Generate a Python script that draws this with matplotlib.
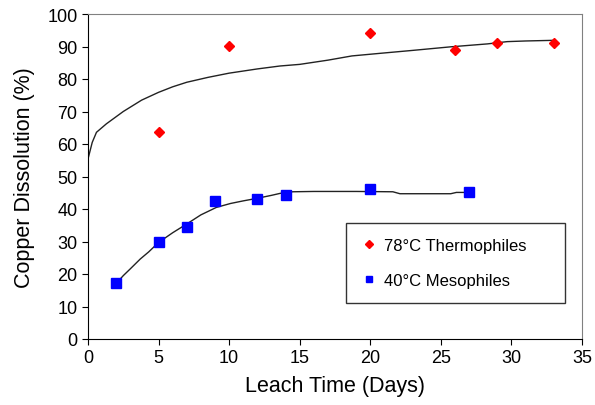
import matplotlib.pyplot as plt

plt.rcParams['font.family'] = ['Liberation Sans', 'DejaVu Sans']

# Measured points
thermo_days = [5, 10, 20, 26, 29, 33]
thermo_cu = [63.7, 90.2, 94.2, 89.0, 91.0, 91.1]

meso_days = [2, 5, 7, 9, 12, 14, 20, 27]
meso_cu = [17.1, 29.7, 34.6, 42.5, 43.1, 44.4, 46.2, 45.2]

# Fitted curves (traced)
thermo_fit_x = [0, 0.3, 0.6, 1.3, 2.5, 3.8, 5, 6, 7, 8.5, 10, 12, 13.6, 15, 17, 18.7,
                20.7, 23, 25.7, 28.3, 29.7, 31, 33]
thermo_fit_y = [55.4, 60.5, 63.6, 66.2, 70.0, 73.5, 75.9, 77.6, 79.0, 80.5, 81.8, 83.1,
                84.0, 84.5, 85.8, 87.1, 87.9, 88.8, 89.9, 90.8, 91.5, 91.7, 91.9]

meso_fit_x = [2, 2.5, 3, 3.7, 4.3, 5, 6, 7, 8, 9.1, 10.1, 11, 12, 13, 13.6, 14.5, 16,
              19, 21.6, 22.1, 25.7, 26.1, 27]
meso_fit_y = [17.1, 19.5, 21.6, 24.6, 26.8, 29.7, 32.7, 35.4, 38.2, 40.5, 41.7, 42.5,
              43.3, 44.2, 44.8, 45.3, 45.4, 45.4, 45.3, 44.7, 44.7, 45.1, 45.1]

fig = plt.figure(figsize=(5.95, 4.06), dpi=100)
ax = fig.add_axes([88 / 595, 1 - 340 / 406, (582 - 88) / 595, (340 - 15) / 406])

ax.plot(thermo_fit_x, thermo_fit_y, color='#222222', lw=1)
ax.plot(meso_fit_x, meso_fit_y, color='#222222', lw=1)
ax.plot(thermo_days, thermo_cu, 'D', color='red', markersize=5.5, linestyle='none',
        label='78°C Thermophiles')
ax.plot(meso_days, meso_cu, 's', color='blue', markersize=6.5, linestyle='none',
        label='40°C Mesophiles')

ax.set_xlim(0, 35)
ax.set_ylim(0, 100)
ax.set_xticks(range(0, 36, 5))
ax.set_yticks(range(0, 101, 10))
ax.tick_params(direction='out', length=4.5, labelsize=13, color='black', pad=3)
ax.set_xlabel('Leach Time (Days)', fontsize=15.5, labelpad=6)
ax.set_ylabel('Copper Dissolution (%)', fontsize=15.5, labelpad=9)

for s in ['top', 'right']:
    ax.spines[s].set_color('#808080')
for s in ['left', 'bottom']:
    ax.spines[s].set_color('black')

x0 = (346 - 88) / 494
x1 = (565 - 88) / 494
ytop = (340 - 224) / 325
leg = ax.legend(loc='upper left', bbox_to_anchor=(x0, ytop - 0.3, x1 - x0, 0.3),
                mode='expand', borderaxespad=0,
                numpoints=1, markerscale=0.7, handlelength=1.0, handletextpad=0.4,
                fontsize=12, frameon=True, fancybox=False, edgecolor='black',
                labelspacing=1.2, borderpad=0.9)
leg.get_frame().set_linewidth(1)

plt.savefig('out.png', dpi=100)
